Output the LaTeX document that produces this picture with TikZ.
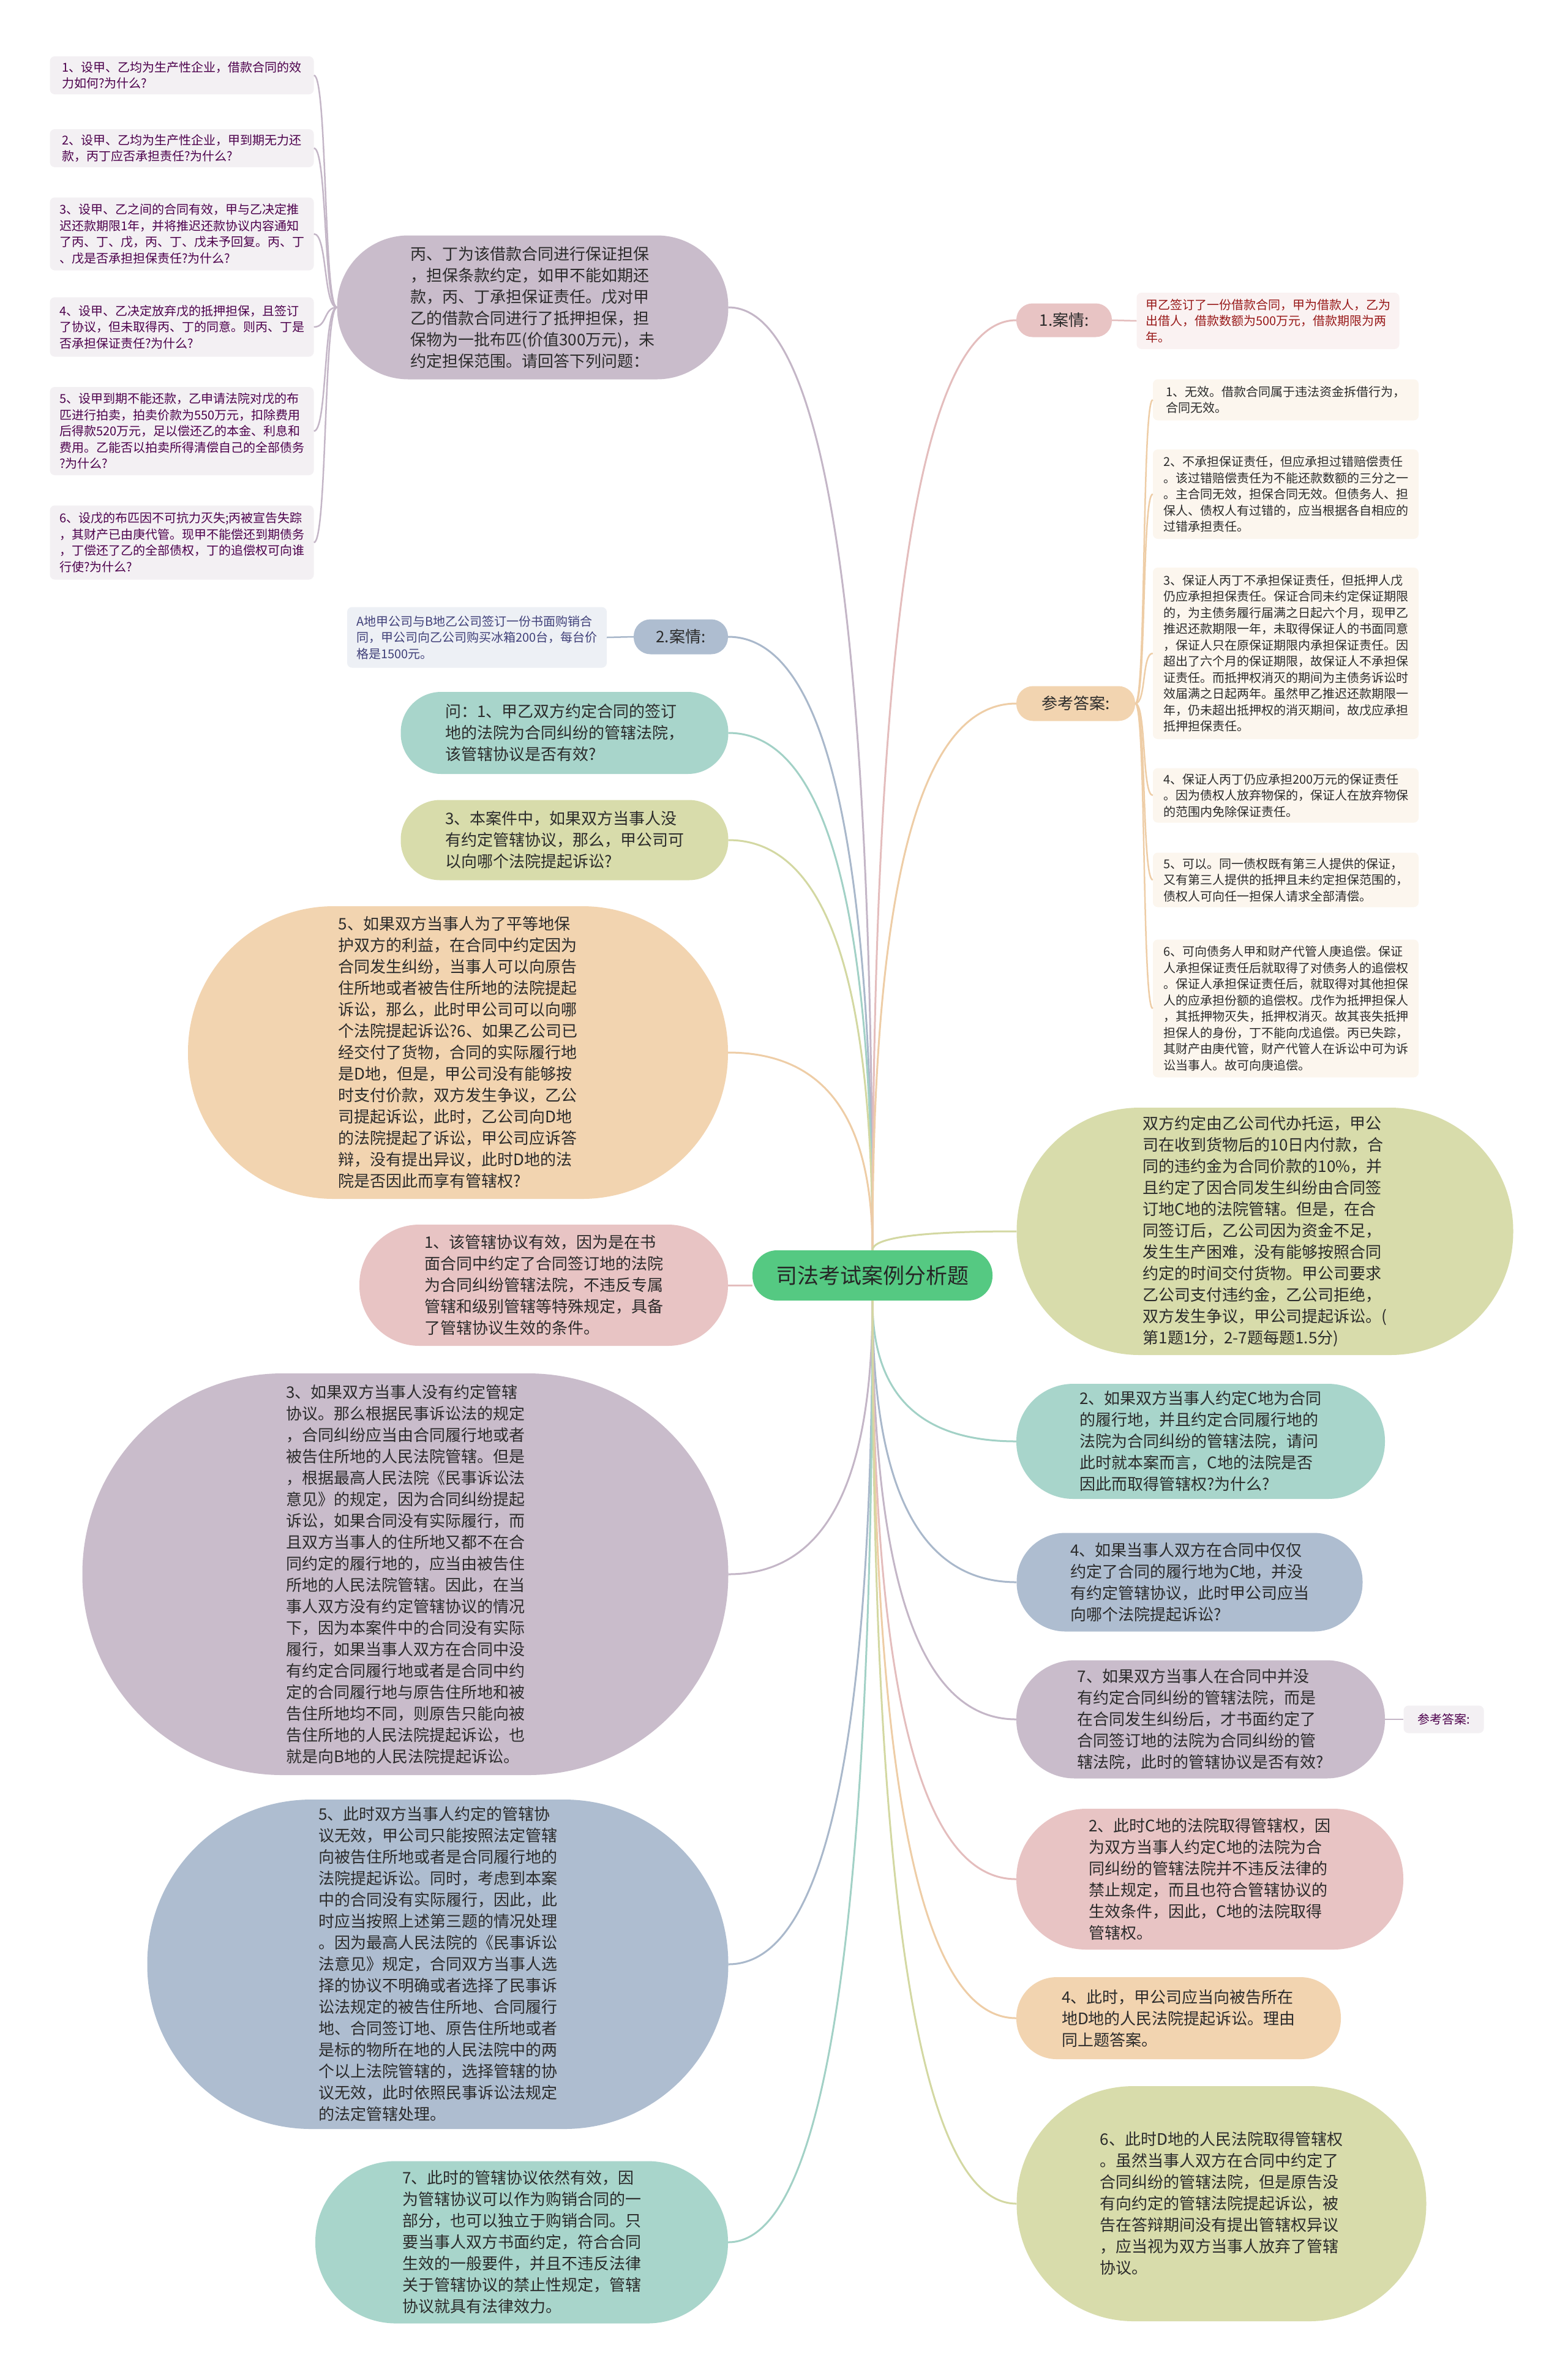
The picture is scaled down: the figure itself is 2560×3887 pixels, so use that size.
\documentclass[tikz,border=0pt]{standalone}
\usepackage{fontspec}
\setmainfont{Noto Sans CJK SC}
\usetikzlibrary{calc}

\definecolor{ink}{HTML}{2B2B2B}
\definecolor{leaf}{HTML}{55C982}
\definecolor{mauve}{HTML}{C9BCCB}
\definecolor{slate}{HTML}{AEBDD0}
\definecolor{mint}{HTML}{A8D5CB}
\definecolor{olive}{HTML}{D8DCAB}
\definecolor{peach}{HTML}{F2D4B0}
\definecolor{rose}{HTML}{E8C4C4}
\definecolor{mauveln}{HTML}{C4B6C7}
\definecolor{slateln}{HTML}{A9B8CB}
\definecolor{mintln}{HTML}{A2D1C6}
\definecolor{oliveln}{HTML}{D3D8A2}
\definecolor{peachln}{HTML}{EECDA6}
\definecolor{roseln}{HTML}{E4BDBD}

\begin{document}
\begin{tikzpicture}[x=1pt, y=-1pt,
  bubble/.style={rectangle, inner sep=4pt, align=left, text=ink, font=\fontsize{26}{35}\selectfont},
  pill/.style args={#1 by #2}{minimum width=#1pt, minimum height=#2pt, rounded corners=#2pt/2-1pt},
  note/.style={rectangle, rounded corners=8pt, inner sep=4pt, align=left, font=\fontsize{20}{26.5}\selectfont},
  sized/.style args={#1 by #2}{minimum width=#1pt, minimum height=#2pt},
  link/.style={line width=3pt},
  twig/.style={line width=2.5pt}
]
\fill[white] (0,0) rectangle (2560,3887);

% centre
\node[bubble, pill=392 by 82, fill=leaf, font=\fontsize{35}{40}\selectfont, text=black!85] (ctr) at (1425,2083) {司法考试案例分析题};

% left side
\node[bubble, pill=639 by 235, fill=mauve] (q0) at (870,502) {丙、丁为该借款合同进行保证担保\\
，担保条款约定，如甲不能如期还\\
款，丙、丁承担保证责任。戊对甲\\
乙的借款合同进行了抵押担保，担\\
保物为一批布匹(价值300万元)，未\\
约定担保范围。请回答下列问题：};

\begin{scope}[every node/.style={note, fill=black!4!mauve!20, text=violet!60!black}]
\node[sized=431 by 62] (n1) at (297,123) {1、设甲、乙均为生产性企业，借款合同的效\\
力如何?为什么?};
\node[sized=431 by 62] (n2) at (297,242) {2、设甲、乙均为生产性企业，甲到期无力还\\
款，丙丁应否承担责任?为什么?};
\node[sized=431 by 119] (n3) at (297,382) {3、设甲、乙之间的合同有效，甲与乙决定推\\
迟还款期限1年，并将推迟还款协议内容通知\\
了丙、丁、戊，丙、丁、戊未予回复。丙、丁\\
、戊是否承担担保责任?为什么?};
\node[sized=431 by 97] (n4) at (297,534) {4、设甲、乙决定放弃戊的抵押担保，且签订\\
了协议，但未取得丙、丁的同意。则丙、丁是\\
否承担保证责任?为什么?};
\node[sized=431 by 144] (n5) at (297,704) {5、设甲到期不能还款，乙申请法院对戊的布\\
匹进行拍卖，拍卖价款为550万元，扣除费用\\
后得款520万元，足以偿还乙的本金、利息和\\
费用。乙能否以拍卖所得清偿自己的全部债务\\
?为什么?};
\node[sized=431 by 121] (n6) at (297,886) {6、设戊的布匹因不可抗力灭失;丙被宣告失踪\\
，其财产已由庚代管。现甲不能偿还到期债务\\
，丁偿还了乙的全部债权，丁的追偿权可向谁\\
行使?为什么?};
\end{scope}

\node[bubble, pill=154 by 57, fill=slate] (c2) at (1112,1040) {2.案情:};
\node[note, sized=424 by 99, fill=slate!22, text=blue!30!black!75] (c2n) at (779,1041) {A地甲公司与B地乙公司签订一份书面购销合\\
同，甲公司向乙公司购买冰箱200台，每台价\\
格是1500元。};

\node[bubble, pill=535 by 134, fill=mint] (q1) at (922,1197) {问：1、甲乙双方约定合同的签订\\
地的法院为合同纠纷的管辖法院，\\
该管辖协议是否有效?};
\node[bubble, pill=535 by 131, fill=olive] (q3) at (922,1372) {3、本案件中，如果双方当事人没\\
有约定管辖协议，那么，甲公司可\\
以向哪个法院提起诉讼?};
\node[bubble, pill=882 by 478, fill=peach] (q56) at (748,1719) {5、如果双方当事人为了平等地保\\
护双方的利益，在合同中约定因为\\
合同发生纠纷，当事人可以向原告\\
住所地或者被告住所地的法院提起\\
诉讼，那么，此时甲公司可以向哪\\
个法院提起诉讼?6、如果乙公司已\\
经交付了货物，合同的实际履行地\\
是D地，但是，甲公司没有能够按\\
时支付价款，双方发生争议，乙公\\
司提起诉讼，此时，乙公司向D地\\
的法院提起了诉讼，甲公司应诉答\\
辩，没有提出异议，此时D地的法\\
院是否因此而享有管辖权?};
\node[bubble, pill=602 by 198, fill=rose] (a1) at (888,2099) {1、该管辖协议有效，因为是在书\\
面合同中约定了合同签订地的法院\\
为合同纠纷管辖法院，不违反专属\\
管辖和级别管辖等特殊规定，具备\\
了管辖协议生效的条件。};
\node[bubble, pill=1055 by 656, fill=mauve] (a3) at (662,2571) {3、如果双方当事人没有约定管辖\\
协议。那么根据民事诉讼法的规定\\
，合同纠纷应当由合同履行地或者\\
被告住所地的人民法院管辖。但是\\
，根据最高人民法院《民事诉讼法\\
意见》的规定，因为合同纠纷提起\\
诉讼，如果合同没有实际履行，而\\
且双方当事人的住所地又都不在合\\
同约定的履行地的，应当由被告住\\
所地的人民法院管辖。因此，在当\\
事人双方没有约定管辖协议的情况\\
下，因为本案件中的合同没有实际\\
履行，如果当事人双方在合同中没\\
有约定合同履行地或者是合同中约\\
定的合同履行地与原告住所地和被\\
告住所地均不同，则原告只能向被\\
告住所地的人民法院提起诉讼，也\\
就是向B地的人民法院提起诉讼。};
\node[bubble, pill=949 by 538, fill=slate] (a5) at (715,3208) {5、此时双方当事人约定的管辖协\\
议无效，甲公司只能按照法定管辖\\
向被告住所地或者是合同履行地的\\
法院提起诉讼。同时，考虑到本案\\
中的合同没有实际履行，因此，此\\
时应当按照上述第三题的情况处理\\
。因为最高人民法院的《民事诉讼\\
法意见》规定，合同双方当事人选\\
择的协议不明确或者选择了民事诉\\
讼法规定的被告住所地、合同履行\\
地、合同签订地、原告住所地或者\\
是标的物所在地的人民法院中的两\\
个以上法院管辖的，选择管辖的协\\
议无效，此时依照民事诉讼法规定\\
的法定管辖处理。};
\node[bubble, pill=674 by 265, fill=mint] (a7) at (852,3662) {7、此时的管辖协议依然有效，因\\
为管辖协议可以作为购销合同的一\\
部分，也可以独立于购销合同。只\\
要当事人双方书面约定，符合合同\\
生效的一般要件，并且不违反法律\\
关于管辖协议的禁止性规定，管辖\\
协议就具有法律效力。};

% right side
\node[bubble, pill=156 by 55, fill=rose] (c1) at (1738,523) {1.案情:};
\node[note, sized=429 by 92, fill=rose!22, text=red!55!black!90] (c1n) at (2071,524) {甲乙签订了一份借款合同，甲为借款人，乙为\\
出借人，借款数额为500万元，借款期限为两\\
年。};

\node[bubble, pill=194 by 57, fill=peach] (ans) at (1757,1149) {参考答案:};
\begin{scope}[every node/.style={note, fill=peach!22, text=ink}]
\node[sized=434 by 67] (s1) at (2100,653) {1、无效。借款合同属于违法资金拆借行为，\\
合同无效。};
\node[sized=434 by 146] (s2) at (2100,807) {2、不承担保证责任，但应承担过错赔偿责任\\
。该过错赔偿责任为不能还款数额的三分之一\\
。主合同无效，担保合同无效。但债务人、担\\
保人、债权人有过错的，应当根据各自相应的\\
过错承担责任。};
\node[sized=434 by 280] (s3) at (2100,1067) {3、保证人丙丁不承担保证责任，但抵押人戊\\
仍应承担担保责任。保证合同未约定保证期限\\
的，为主债务履行届满之日起六个月，现甲乙\\
推迟还款期限一年，未取得保证人的书面同意\\
，保证人只在原保证期限内承担保证责任。因\\
超出了六个月的保证期限，故保证人不承担保\\
证责任。而抵押权消灭的期间为主债务诉讼时\\
效届满之日起两年。虽然甲乙推迟还款期限一\\
年，仍未超出抵押权的消灭期间，故戊应承担\\
抵押担保责任。};
\node[sized=434 by 89] (s4) at (2100,1299) {4、保证人丙丁仍应承担200万元的保证责任\\
。因为债权人放弃物保的，保证人在放弃物保\\
的范围内免除保证责任。};
\node[sized=434 by 89] (s5) at (2100,1437) {5、可以。同一债权既有第三人提供的保证，\\
又有第三人提供的抵押且未约定担保范围的，\\
债权人可向任一担保人请求全部清偿。};
\node[sized=434 by 225] (s6) at (2100,1647) {6、可向债务人甲和财产代管人庚追偿。保证\\
人承担保证责任后就取得了对债务人的追偿权\\
。保证人承担保证责任后，就取得对其他担保\\
人的应承担份额的追偿权。戊作为抵押担保人\\
，其抵押物灭失，抵押权消灭。故其丧失抵押\\
担保人的身份，丁不能向戊追偿。丙已失踪，\\
其财产由庚代管，财产代管人在诉讼中可为诉\\
讼当事人。故可向庚追偿。};
\end{scope}

\node[bubble, pill=811 by 404, fill=olive] (info) at (2066,2011) {双方约定由乙公司代办托运，甲公\\
司在收到货物后的10日内付款，合\\
同的违约金为合同价款的10\%，并\\
且约定了因合同发生纠纷由合同签\\
订地C地的法院管辖。但是，在合\\
同签订后，乙公司因为资金不足，\\
发生生产困难，没有能够按照合同\\
约定的时间交付货物。甲公司要求\\
乙公司支付违约金，乙公司拒绝，\\
双方发生争议，甲公司提起诉讼。(\\
第1题1分，2-7题每题1.5分)};
\node[bubble, pill=602 by 188, fill=mint] (q2) at (1961,2354) {2、如果双方当事人约定C地为合同\\
的履行地，并且约定合同履行地的\\
法院为合同纠纷的管辖法院，请问\\
此时就本案而言，C地的法院是否\\
因此而取得管辖权?为什么?};
\node[bubble, pill=565 by 161, fill=slate] (q4) at (1943,2584) {4、如果当事人双方在合同中仅仅\\
约定了合同的履行地为C地，并没\\
有约定管辖协议，此时甲公司应当\\
向哪个法院提起诉讼?};
\node[bubble, pill=602 by 193, fill=mauve] (q7) at (1961,2808) {7、如果双方当事人在合同中并没\\
有约定合同纠纷的管辖法院，而是\\
在合同发生纠纷后，才书面约定了\\
合同签订地的法院为合同纠纷的管\\
辖法院，此时的管辖协议是否有效?};
\node[note, sized=131 by 45, fill=black!4!mauve!20, text=violet!60!black] (q7n) at (2358,2808) {参考答案:};
\node[bubble, pill=632 by 230, fill=rose] (a2) at (1976,3069) {2、此时C地的法院取得管辖权，因\\
为双方当事人约定C地的法院为合\\
同纠纷的管辖法院并不违反法律的\\
禁止规定，而且也符合管辖协议的\\
生效条件，因此，C地的法院取得\\
管辖权。};
\node[bubble, pill=530 by 134, fill=peach] (a4) at (1925,3296) {4、此时，甲公司应当向被告所在\\
地D地的人民法院提起诉讼。理由\\
同上题答案。};
\node[bubble, pill=669 by 384, fill=olive] (a6) at (1995,3599) {6、此时D地的人民法院取得管辖权\\
。虽然当事人双方在合同中约定了\\
合同纠纷的管辖法院，但是原告没\\
有向约定的管辖法院提起诉讼，被\\
告在答辩期间没有提出管辖权异议\\
，应当视为双方当事人放弃了管辖\\
协议。};

% connectors from the centre
\foreach \n/\a/\b/\col in {q0/north/east/mauveln, c2/north/east/slateln, q1/north/east/mintln,
    q3/north/east/oliveln, q56/north/east/peachln, c1/north/west/roseln, ans/north/west/peachln,
    info/north/west/oliveln, a3/south/east/mauveln, a5/south/east/slateln, a7/south/east/mintln,
    q2/south/west/mintln, q4/south/west/slateln, q7/south/west/mauveln, a2/south/west/roseln,
    a4/south/west/peachln, a6/south/west/oliveln}
  \draw[link, \col] (ctr.\a) .. controls ($(ctr.\a)!.67!(ctr.\a |- \n.\b)$)
    and ($(\n.\b)!.67!(ctr.\a |- \n.\b)$) .. (\n.\b);
\draw[link, roseln] (ctr.west |- a1.east) -- (a1.east);

% second level
\foreach \n in {n1,n2,n3,n4,n5,n6}
  \draw[twig, mauveln] (q0.west) .. controls +(-22,0) and +(22,0) .. (\n.east);
\foreach \n in {s1,s2,s3,s4,s5,s6}
  \draw[twig, peachln] (ans.east) .. controls +(18,0) and +(-18,0) .. (\n.west);
\draw[twig, slateln] (c2.west) -- (c2n.east);
\draw[twig, roseln] (c1.east) -- (c1n.west);
\draw[twig, mauveln] (q7.east) -- (q7n.west);
\end{tikzpicture}
\end{document}
